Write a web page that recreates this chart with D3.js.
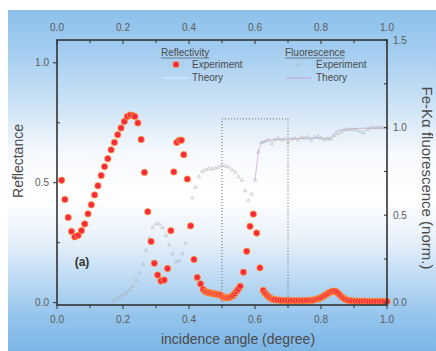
<!DOCTYPE html>
<html>
<head>
<meta charset="utf-8">
<script src="https://cdn.jsdelivr.net/npm/d3@7"></script>
<style>
	html, body { margin: 0; padding: 0; background: #ffffff; }
	svg text { font-family: 'Liberation Sans', Arial, sans-serif; }
</style>
</head>
<body>
<div id="chart"></div>
<script>
// Reflectivity, experiment: [angle (deg), reflectance]
const reflExp = [
	[0.014, 0.51], [0.024, 0.43], [0.034, 0.355], [0.044, 0.297], [0.054, 0.274], [0.064, 0.28],
	[0.074, 0.30], [0.084, 0.328], [0.094, 0.37], [0.104, 0.408], [0.114, 0.449], [0.124, 0.487],
	[0.134, 0.53], [0.144, 0.567], [0.154, 0.60], [0.164, 0.637], [0.174, 0.668], [0.184, 0.70],
	[0.194, 0.728], [0.204, 0.755], [0.213, 0.776], [0.222, 0.782], [0.230, 0.78], [0.236, 0.776],
	[0.245, 0.749], [0.255, 0.68], [0.265, 0.543], [0.275, 0.379], [0.285, 0.255], [0.295, 0.164],
	[0.305, 0.115], [0.315, 0.09], [0.325, 0.094], [0.335, 0.142], [0.345, 0.30], [0.354, 0.545],
	[0.363, 0.668], [0.371, 0.677], [0.377, 0.677], [0.384, 0.617], [0.395, 0.515], [0.405, 0.32],
	[0.415, 0.18], [0.425, 0.105], [0.435, 0.078], [0.443, 0.055], [0.449, 0.047], [0.454, 0.043],
	[0.459, 0.042], [0.464, 0.04], [0.469, 0.039], [0.474, 0.038], [0.479, 0.036], [0.484, 0.035],
	[0.489, 0.034], [0.494, 0.033], [0.499, 0.028], [0.504, 0.022], [0.509, 0.021], [0.514, 0.02],
	[0.519, 0.021], [0.524, 0.022], [0.529, 0.026], [0.534, 0.03], [0.539, 0.038], [0.544, 0.047],
	[0.549, 0.056], [0.555, 0.068], [0.565, 0.127], [0.575, 0.214], [0.585, 0.318], [0.595, 0.369],
	[0.605, 0.29], [0.615, 0.145], [0.625, 0.051], [0.630, 0.04], [0.635, 0.033], [0.640, 0.026],
	[0.645, 0.02], [0.650, 0.016], [0.655, 0.013], [0.660, 0.012], [0.667, 0.011], [0.675, 0.01],
	[0.683, 0.009], [0.691, 0.009], [0.699, 0.008], [0.707, 0.008], [0.715, 0.008], [0.723, 0.008],
	[0.731, 0.008], [0.739, 0.008], [0.747, 0.008], [0.755, 0.009], [0.763, 0.009], [0.771, 0.01],
	[0.778, 0.011], [0.785, 0.013], [0.791, 0.016], [0.797, 0.019], [0.803, 0.023], [0.809, 0.028],
	[0.815, 0.033], [0.821, 0.038], [0.827, 0.043], [0.833, 0.046], [0.839, 0.048], [0.845, 0.046],
	[0.851, 0.04], [0.857, 0.032], [0.863, 0.024], [0.869, 0.018], [0.875, 0.013], [0.881, 0.01],
	[0.888, 0.008], [0.896, 0.007], [0.904, 0.006], [0.912, 0.006], [0.920, 0.006], [0.928, 0.006],
	[0.936, 0.006], [0.944, 0.005], [0.952, 0.005], [0.960, 0.005], [0.968, 0.005], [0.976, 0.005],
	[0.984, 0.005], [0.992, 0.005], [1.0, 0.005],
]

// Fluorescence, experiment: [angle (deg), normalised Fe-Ka yield]
const fluoExp = [
	[0.17, 0.01], [0.18, 0.02], [0.19, 0.036], [0.20, 0.045], [0.21, 0.057], [0.22, 0.075],
	[0.23, 0.095], [0.24, 0.13], [0.25, 0.17], [0.26, 0.22], [0.27, 0.30], [0.28, 0.37],
	[0.29, 0.43], [0.30, 0.45], [0.31, 0.45], [0.32, 0.43], [0.33, 0.385], [0.34, 0.33],
	[0.35, 0.28], [0.36, 0.235], [0.37, 0.24], [0.38, 0.28], [0.39, 0.34], [0.40, 0.43],
	[0.41, 0.60], [0.42, 0.66], [0.43, 0.72], [0.44, 0.75], [0.45, 0.76], [0.46, 0.765],
	[0.47, 0.765], [0.48, 0.77], [0.49, 0.775], [0.50, 0.785], [0.51, 0.78], [0.52, 0.775],
	[0.53, 0.76], [0.54, 0.745], [0.55, 0.72], [0.56, 0.70], [0.57, 0.64], [0.58, 0.585],
	[0.59, 0.62], [0.60, 0.70], [0.61, 0.86], [0.62, 0.915], [0.63, 0.92], [0.64, 0.93],
	[0.65, 0.91], [0.66, 0.93], [0.67, 0.94], [0.68, 0.93], [0.69, 0.935], [0.70, 0.92],
	[0.71, 0.935], [0.72, 0.94], [0.73, 0.93], [0.74, 0.945], [0.75, 0.94], [0.76, 0.945],
	[0.77, 0.93], [0.78, 0.945], [0.79, 0.95], [0.80, 0.94], [0.81, 0.93], [0.82, 0.935],
	[0.83, 0.935], [0.84, 0.955], [0.85, 0.965], [0.86, 0.975], [0.87, 0.985], [0.88, 0.99],
	[0.89, 0.99], [0.90, 0.99], [0.91, 0.985], [0.92, 0.975], [0.93, 0.97], [0.94, 0.99],
	[0.95, 1.0], [0.96, 1.0], [0.97, 1.0], [0.98, 1.0], [0.99, 1.0], [1.0, 1.0],
]

// Fluorescence, theory (only the visible part)
const fluoTheory = [
	[0.60, 0.70], [0.61, 0.86], [0.62, 0.92], [0.65, 0.93], [0.70, 0.935], [0.75, 0.94],
	[0.80, 0.94], [0.83, 0.94], [0.85, 0.985], [0.90, 0.995], [1.0, 1.0],
]

// dotted window on the plot: angle range and height (right axis)
const windowAngles = [0.5, 0.7]
const windowTop = 1.05

const xTicks = [0, 0.2, 0.4, 0.6, 0.8, 1.0]
const xMinorTicks = [0.1, 0.3, 0.5, 0.7, 0.9]
const leftTicks = [0, 0.5, 1.0]
const leftMinorTicks = [0.25, 0.75]
const rightTicks = [0, 0.5, 1.0, 1.5]
const rightMinorTicks = [0.25, 0.75, 1.25]

const W = 436, H = 351
const box = { left: 57, right: 387, top: 40, bottom: 305 }

const svg = d3.select('#chart').append('svg').attr('width', W).attr('height', H)

// background gradient
const defs = svg.append('defs')
const grad = defs.append('linearGradient').attr('id', 'bg').attr('x1', 0).attr('y1', 0).attr('x2', 0).attr('y2', 1)
const stops = [
	[0, '#8cc0ea'], [0.12, '#a3cdf0'], [0.3, '#d3e6f7'], [0.42, '#f6f9fd'], [0.55, '#ffffff'],
	[0.68, '#e6f0fa'], [0.8, '#b9d8f3'], [0.9, '#94c4ec'], [1, '#7cb6e6'],
]
stops.forEach((s) => grad.append('stop').attr('offset', s[0]).attr('stop-color', s[1]))
svg.append('rect').attr('x', 8).attr('y', 10).attr('width', W - 8).attr('height', H - 10).attr('fill', 'url(#bg)')

const x = d3.scaleLinear().domain([0, 1]).range([box.left, box.right])
const yL = d3.scaleLinear().domain([-0.01, 1.095]).range([box.bottom, box.top])
const yR = d3.scaleLinear().domain([-0.012, 1.5]).range([box.bottom, box.top])

const axisColor = '#333'
const labelColor = '#5a5a5a'
const fmt = d3.format('.1f')

// dotted window
svg.append('path')
	.attr('d', `M${x(windowAngles[0])},${box.bottom}V${yR(windowTop)}H${x(windowAngles[1])}V${box.bottom}`)
	.attr('fill', 'none')
	.attr('stroke', '#666')
	.attr('stroke-width', 1)
	.attr('stroke-dasharray', '1,2')

// fluorescence theory line
const line = d3.line().x((d) => x(d[0])).y((d) => yR(d[1]))
svg.append('path')
	.attr('d', line(fluoTheory))
	.attr('fill', 'none')
	.attr('stroke', '#c4a0dc')
	.attr('stroke-width', 1)
	.attr('opacity', 0.7)

// fluorescence experiment markers
const tri = d3.symbol().type(d3.symbolTriangle).size(5)
svg.append('g')
	.selectAll('path')
	.data(fluoExp)
	.join('path')
	.attr('d', tri)
	.attr('transform', (d) => `translate(${x(d[0])},${yR(d[1])})`)
	.attr('fill', 'none')
	.attr('stroke', '#aaa')
	.attr('stroke-width', 0.5)

// reflectivity experiment dots
svg.append('g')
	.selectAll('circle')
	.data(reflExp)
	.join('circle')
	.attr('cx', (d) => x(d[0]))
	.attr('cy', (d) => yL(d[1]))
	.attr('r', 3.2)
	.attr('fill', '#f52a3e')
	.attr('stroke', '#ff9a3c')
	.attr('stroke-width', 0.8)

// axes frame
const axes = svg.append('g').attr('stroke', axisColor).attr('fill', 'none')
axes.append('rect')
	.attr('x', box.left).attr('y', box.top)
	.attr('width', box.right - box.left).attr('height', box.bottom - box.top)
	.attr('stroke-width', 1.6)

// bottom ticks (outward), top ticks (inward)
xTicks.concat(xMinorTicks).forEach((t) => {
	const major = xTicks.includes(t)
	axes.append('line').attr('x1', x(t)).attr('x2', x(t)).attr('y1', box.bottom).attr('y2', box.bottom + (major ? 4 : 3))
	axes.append('line').attr('x1', x(t)).attr('x2', x(t)).attr('y1', box.top).attr('y2', box.top + (major ? 4 : 3))
})
// left ticks
leftTicks.forEach((t) => axes.append('line').attr('x1', box.left - 4).attr('x2', box.left).attr('y1', yL(t)).attr('y2', yL(t)))
leftMinorTicks.forEach((t) => axes.append('line').attr('x1', box.left).attr('x2', box.left + 3).attr('y1', yL(t)).attr('y2', yL(t)))
// right ticks (inward)
rightTicks.concat(rightMinorTicks).forEach((t) =>
	axes.append('line').attr('x1', box.right - 3).attr('x2', box.right).attr('y1', yR(t)).attr('y2', yR(t))
)

// tick labels
const labels = svg.append('g').attr('fill', labelColor).style('font-size', '10px')
xTicks.forEach((t) => {
	labels.append('text').attr('x', x(t)).attr('y', 323).attr('text-anchor', 'middle').text(fmt(t))
	labels.append('text').attr('x', x(t)).attr('y', 31).attr('text-anchor', 'middle').text(fmt(t))
})
leftTicks.forEach((t) => labels.append('text').attr('x', 49).attr('y', yL(t) + 3.5).attr('text-anchor', 'end').text(fmt(t)))
rightTicks.forEach((t) => labels.append('text').attr('x', 393).attr('y', yR(t) + 3.5).text(fmt(t)))

// axis titles
const titles = svg.append('g').attr('fill', '#4a4a4a').style('font-size', '14px')
titles.append('text').attr('x', 238).attr('y', 344).attr('text-anchor', 'middle').text('incidence angle (degree)')
titles.append('text')
	.attr('transform', 'translate(23,161) rotate(-90)')
	.attr('text-anchor', 'middle')
	.text('Reflectance')
titles.append('text')
	.attr('transform', 'translate(422,178) rotate(90)')
	.attr('text-anchor', 'middle')
	.style('font-size', '15px')
	.text('Fe-K\u03b1 fluorescence (norm.)')

// panel label
svg.append('text').attr('x', 82).attr('y', 266).attr('text-anchor', 'middle')
	.attr('fill', '#333').style('font-size', '12px').style('font-weight', 'bold').text('(a)')

// legends
const leg = svg.append('g').attr('fill', '#4a4a4a').style('font-size', '10px')
function legendBlock(lx, title) {
	const t = leg.append('text').attr('x', lx).attr('y', 56).text(title)
	const w = t.node().getComputedTextLength()
	leg.append('line').attr('x1', lx).attr('x2', lx + w).attr('y1', 58).attr('y2', 58).attr('stroke', '#555').attr('stroke-width', 0.7)
	leg.append('text').attr('x', lx + 31).attr('y', 68).text('Experiment')
	leg.append('text').attr('x', lx + 31).attr('y', 81).text('Theory')
}
legendBlock(161, 'Reflectivity')
legendBlock(285, 'Fluorescence')
leg.append('circle').attr('cx', 176).attr('cy', 64.5).attr('r', 3.2).attr('fill', '#f52a3e').attr('stroke', '#ff9a3c').attr('stroke-width', 0.8)
leg.append('line').attr('x1', 163).attr('x2', 189).attr('y1', 78).attr('y2', 78).attr('stroke', '#ffffff').attr('stroke-width', 1).attr('opacity', 0.5)
leg.append('path').attr('d', tri).attr('transform', 'translate(298,65)').attr('fill', 'none').attr('stroke', '#aaa').attr('stroke-width', 0.5)
leg.append('line').attr('x1', 286).attr('x2', 311).attr('y1', 78).attr('y2', 78).attr('stroke', '#c4a0dc').attr('stroke-width', 1)
</script>
</body>
</html>
